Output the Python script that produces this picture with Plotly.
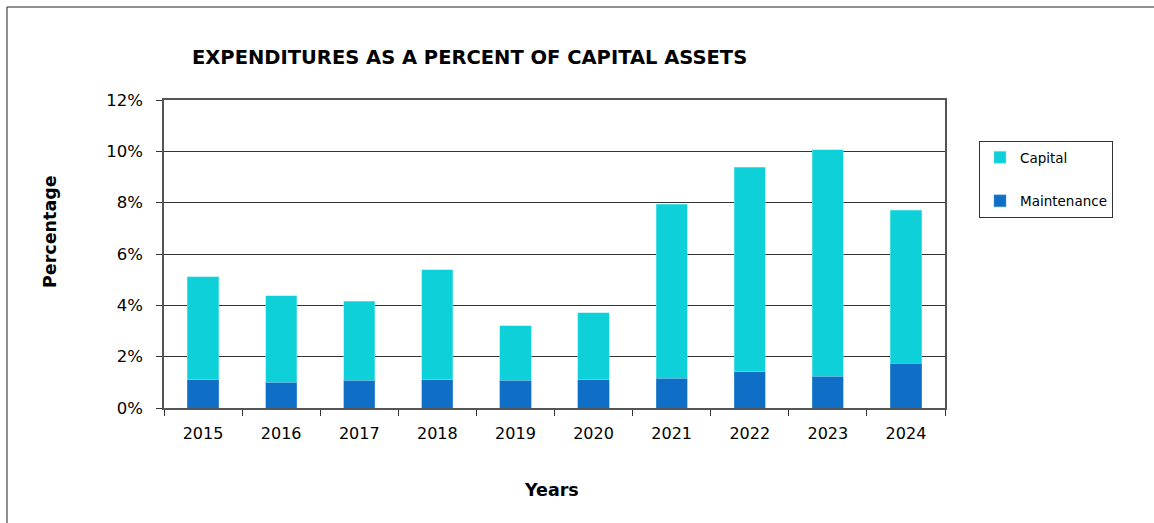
import plotly.graph_objects as go

years = ["2015", "2016", "2017", "2018", "2019", "2020", "2021", "2022", "2023", "2024"]
# percent of capital assets
maintenance = [1.10, 1.01, 1.08, 1.10, 1.08, 1.10, 1.16, 1.42, 1.23, 1.74]
capital = [4.01, 3.37, 3.07, 4.28, 2.13, 2.62, 6.77, 7.96, 8.84, 5.96]

FONT = "DejaVu Sans"
W, H = 1154, 523
L, R, T, B = 164, 945, 100, 408

fig = go.Figure()
fig.add_trace(go.Bar(
    x=years, y=maintenance, name="Maintenance", legendgroup="m", legendrank=2,
    marker=dict(color="#0F6FC6", line=dict(color="#5AA0E0", width=0.5)),
    width=0.4,
))
fig.add_trace(go.Bar(
    x=years, y=capital, name="Capital", legendgroup="c", legendrank=1,
    marker=dict(color="#0DD0D9", line=dict(color="#7FE9EE", width=0.5)),
    width=0.4,
))

fig.update_layout(
    width=W, height=H,
    barmode="stack",
    paper_bgcolor="white", plot_bgcolor="white",
    margin=dict(l=L, r=W - R, t=T, b=H - B, pad=0),
    font=dict(family=FONT, color="black", size=15),
    showlegend=True,
    legend=dict(
        x=(979 - L) / (R - L), xanchor="left",
        y=(B - 141) / (B - T), yanchor="top",
        bordercolor="#333333", borderwidth=1,
        font=dict(family=FONT, size=13.5),
        traceorder="grouped", tracegroupgap=23,
        itemwidth=30,
    ),
    xaxis=dict(
        type="category",
        showline=True, linecolor="#555555", linewidth=1.5, mirror=True,
        ticks="outside", ticklen=6, tickcolor="#333333", tickson="boundaries",
        ticklabelstandoff=10,
        tickfont=dict(family=FONT, size=16),
        showgrid=False,
    ),
    yaxis=dict(
        range=[0, 12], dtick=2, ticksuffix="%",
        showline=True, linecolor="#555555", linewidth=1.5, mirror=True,
        ticks="outside", ticklen=6, tickcolor="#333333",
        ticklabelstandoff=10,
        tickfont=dict(family=FONT, size=16.5),
        showgrid=True, gridcolor="#333333", gridwidth=1,
        zeroline=False,
    ),
    annotations=[
        dict(text="<b>EXPENDITURES AS A PERCENT OF CAPITAL ASSETS</b>",
             xref="paper", yref="paper",
             x=(469 - L) / (R - L), y=(B - 57) / (B - T),
             xanchor="center", yanchor="middle", showarrow=False,
             font=dict(family=FONT, size=19.5)),
        dict(text="<b>Percentage</b>", textangle=-90,
             xref="paper", yref="paper",
             x=(50 - L) / (R - L), y=(B - 231) / (B - T),
             xanchor="center", yanchor="middle", showarrow=False,
             font=dict(family=FONT, size=17.5)),
        dict(text="<b>Years</b>",
             xref="paper", yref="paper",
             x=(551 - L) / (R - L), y=(B - 490) / (B - T),
             xanchor="center", yanchor="middle", showarrow=False,
             font=dict(family=FONT, size=17.5)),
    ],
    shapes=[
        # outer chart frame (left and top edges)
        dict(type="line", xref="paper", yref="paper",
             x0=(7 - L) / (R - L), x1=(7 - L) / (R - L),
             y0=(B - 7) / (B - T), y1=(B - 530) / (B - T),
             line=dict(color="#222222", width=1)),
        dict(type="line", xref="paper", yref="paper",
             x0=(7 - L) / (R - L), x1=(1160 - L) / (R - L),
             y0=(B - 7) / (B - T), y1=(B - 7) / (B - T),
             line=dict(color="#222222", width=1)),
    ],
)

fig.write_html("out.html")
